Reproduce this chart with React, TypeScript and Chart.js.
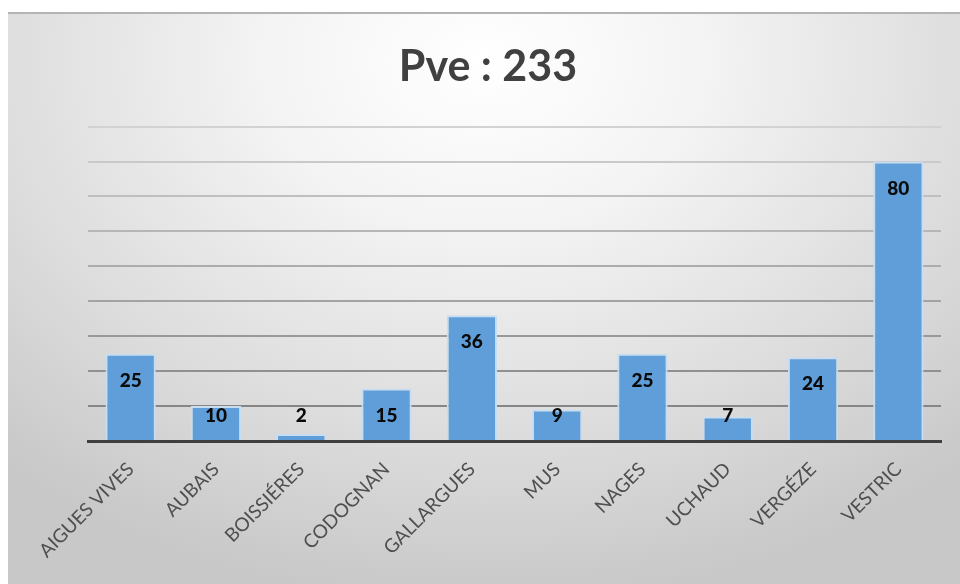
import React, { useEffect, useRef } from "react";
import { Chart, registerables } from "chart.js";

Chart.register(...registerables);

const categories = ["AIGUES VIVES", "AUBAIS", "BOISSIÉRES", "CODOGNAN", "GALLARGUES", "MUS", "NAGES", "UCHAUD", "VERGÉZE", "VESTRIC"];
const values = [25, 10, 2, 15, 36, 9, 25, 7, 24, 80];
const titleText = "Pve : 233";
const yMin = 0;
const yMax = 90;
const yStep = 10;

const dataLabelPlugin = {
  id: "dataLabels",
  afterDatasetsDraw(chart: any) {
    const ctx = chart.ctx;
    const meta = chart.getDatasetMeta(0);
    ctx.save();
    ctx.font = "900 19px Lato";
    ctx.fillStyle = "#0a0a0a";
    ctx.textAlign = "center";
    ctx.textBaseline = "middle";
    meta.data.forEach((bar: any, i: number) => {
      const y = Math.min(bar.y + 27, bar.base - 24);
      ctx.fillText(String(values[i]), bar.x, y);
    });
    ctx.restore();
  },
};

export default function App() {
  const ref = useRef<HTMLCanvasElement | null>(null);
  useEffect(() => {
    if (!ref.current) return;
    const chart = new Chart(ref.current, {
      type: "bar",
      data: {
        labels: categories,
        datasets: [
          {
            data: values,
            backgroundColor: "#5f9ed8",
            borderColor: "#c6ddf2",
            borderWidth: { top: 2, left: 2, right: 2, bottom: 0 },
            borderSkipped: false,
            barPercentage: 0.59,
            categoryPercentage: 1,
          },
        ],
      },
      options: {
        animation: false,
        responsive: false,
        maintainAspectRatio: false,
        layout: { padding: { left: 27, right: 19, top: 0, bottom: 0 } },
        plugins: {
          legend: { display: false },
          tooltip: { enabled: false },
          title: {
            display: true,
            text: titleText,
            color: "#404040",
            font: { family: "Lato", size: 43, weight: "bold" },
            padding: { top: 27, bottom: 34 },
          },
        },
        scales: {
          x: {
            grid: { display: true, drawOnChartArea: false, drawTicks: false, color: "transparent" },
            border: { display: true, color: "#3f3f3f", width: 3 },
            ticks: {
              minRotation: 45,
              maxRotation: 45,
              autoSkip: false,
              padding: 17,
              color: "#4f4f4f",
              font: { family: "Lato", size: 19 },
            },
            afterFit(scale: any) {
              scale.height = 143;
            },
          },
          y: {
            min: yMin,
            max: yMax,
            ticks: { display: false, stepSize: yStep },
            border: { display: false },
            grid: {
              drawTicks: false,
              lineWidth: 2,
              color: (c: any) => {
                const v = c.tick ? c.tick.value : 0;
                const t = v / yMax;
                const g = Math.round(125 + t * 85);
                return v === 0 ? "transparent" : `rgb(${g},${g},${g})`;
              },
            },
            afterFit(scale: any) {
              scale.width = 53;
            },
          },
        },
      },
      plugins: [dataLabelPlugin],
    });
    return () => chart.destroy();
  }, []);

  return (
    <div
      style={{
        position: "fixed",
        left: 8,
        top: 12,
        width: 952,
        height: 572,
        boxSizing: "border-box",
        borderTop: "2px solid #b4b4b4",
        background: "radial-gradient(ellipse 75% 95% at 50% 8%, #ffffff 0%, #f4f4f4 30%, #dcdcdc 70%, #c8c8c8 100%)",
      }}
    >
      <canvas ref={ref} width={952} height={570} style={{ display: "block" }} />
    </div>
  );
}
